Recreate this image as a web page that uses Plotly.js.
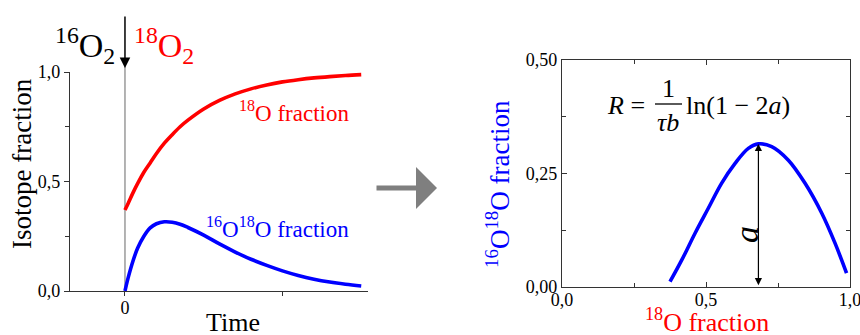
<!DOCTYPE html>
<html><head><meta charset="utf-8">
<script src="https://cdn.plot.ly/plotly-3.0.1.min.js"></script>
<style>html,body{margin:0;padding:0;background:#fff}#chart{width:860px;height:335px}</style>
</head><body><div id="chart"></div>
<script>
// ---- data ----
const time        = [0, 0.02, 0.05, 0.08, 0.12, 0.16, 0.2, 0.25, 0.3, 0.35, 0.4, 0.5, 0.6, 0.7, 0.8, 0.9, 1.0, 1.1, 1.2, 1.3, 1.4, 1.5];
const frac18O     = [0.37, 0.40, 0.447, 0.49, 0.542, 0.585, 0.628, 0.675, 0.714, 0.75, 0.78, 0.831, 0.870, 0.90, 0.923, 0.941, 0.955, 0.965, 0.973, 0.979, 0.984, 0.988];
const frac16O18O  = [0, 0.06, 0.135, 0.195, 0.25, 0.288, 0.307, 0.316, 0.314, 0.305, 0.29, 0.255, 0.215, 0.178, 0.145, 0.117, 0.092, 0.071, 0.054, 0.041, 0.031, 0.023];
const timeTickVals = [0, 1];
const timeTickText = ['0', ''];
const xy18O       = [0.375, 0.416, 0.462, 0.508, 0.554, 0.601, 0.647, 0.682, 0.728, 0.786, 0.844, 0.902, 0.948, 0.988];
const xy16O18O    = [0.011, 0.059, 0.118, 0.173, 0.228, 0.272, 0.305, 0.315, 0.309, 0.279, 0.228, 0.162, 0.096, 0.030];

// ---- helpers (pixel -> paper) ----
const W = 860, H = 335;
const PX = p => p / W;
const PY = p => (H - p) / H;
const FONT = 'Liberation Serif';
const RED = '#ff0000', BLUE = '#0000ff', AX = '#333333';

const traces = [
  {x: time, y: frac18O, xaxis: 'x', yaxis: 'y', mode: 'lines', line: {color: RED, width: 3.6, shape: 'spline'}, hoverinfo: 'skip'},
  {x: time, y: frac16O18O, xaxis: 'x', yaxis: 'y', mode: 'lines', line: {color: BLUE, width: 3.6, shape: 'spline'}, hoverinfo: 'skip'},
  {x: xy18O, y: xy16O18O, xaxis: 'x2', yaxis: 'y2', mode: 'lines', line: {color: BLUE, width: 3.6, shape: 'spline'}, hoverinfo: 'skip'}
];

// peak of the right-hand curve (for the "a" arrow)
let pk = 0; xy16O18O.forEach((v, i) => { if (v > xy16O18O[pk]) pk = i; });
const peakX = xy18O[pk], peakY = xy16O18O[pk];

const tickFont = {family: FONT, size: 18, color: '#000'};
const txt = (x, y, text, size, color, extra) => Object.assign({
  xref: 'paper', yref: 'paper', x: PX(x), y: PY(y), text: text, showarrow: false,
  font: {family: FONT, size: size, color: color}, xanchor: 'center', yanchor: 'middle'
}, extra || {});

const layout = {
  width: W, height: H,
  margin: {l: 0, r: 0, t: 0, b: 0},
  paper_bgcolor: '#fff', plot_bgcolor: '#fff',
  showlegend: false,
  separators: ', ',
  font: {family: FONT, color: '#000'},
  xaxis: {
    domain: [PX(70), PX(368)], range: [-0.349, 1.543],
    tickvals: timeTickVals, ticktext: timeTickText,
    ticks: 'outside', ticklen: 4, tickcolor: AX, tickwidth: 1, ticklabelstandoff: -4,
    showline: true, linecolor: AX, linewidth: 1.2,
    showgrid: false, zeroline: false, tickfont: tickFont, automargin: false
  },
  yaxis: {
    domain: [PY(291), PY(72)], range: [0, 1],
    dtick: 0.5, tickformat: '.1f',
    ticks: 'outside', ticklen: 5, tickcolor: AX, tickwidth: 1,
    minor: {dtick: 0.25, ticks: 'outside', ticklen: 4, tickcolor: AX},
    showline: true, linecolor: AX, linewidth: 1.2,
    showgrid: false, zeroline: false, tickfont: tickFont, automargin: false
  },
  xaxis2: {
    domain: [PX(562), PX(850)], range: [0, 1], anchor: 'y2',
    dtick: 0.5, tickformat: '.1f', ticklabeloverflow: 'allow', ticklabelstandoff: -4,
    ticks: 'inside', ticklen: 5, tickcolor: AX,
    minor: {dtick: 0.25, ticks: 'inside', ticklen: 4, tickcolor: AX},
    showline: true, mirror: 'ticks', linecolor: AX, linewidth: 1.2,
    showgrid: false, zeroline: false, tickfont: tickFont, automargin: false
  },
  yaxis2: {
    domain: [PY(286.7), PY(60)], range: [0, 0.5], anchor: 'x2',
    dtick: 0.25, tickformat: '.2f', ticklabeloverflow: 'allow',
    ticks: 'inside', ticklen: 5, tickcolor: AX,
    minor: {dtick: 0.125, ticks: 'inside', ticklen: 4, tickcolor: AX},
    showline: true, mirror: 'ticks', linecolor: AX, linewidth: 1.2,
    showgrid: false, zeroline: false, tickfont: tickFont, automargin: false
  },
  shapes: [
    {type: 'line', xref: 'x', yref: 'paper', x0: 0, x1: 0, y0: PY(291), y1: PY(66), line: {color: '#9a9a9a', width: 1.5}, layer: 'below'},
    {type: 'line', xref: 'paper', yref: 'paper', x0: PX(655), x1: PX(682), y0: PY(104), y1: PY(104), line: {color: '#000', width: 1.3}}
  ],
  annotations: [
    // axis titles
    txt(22, 164, 'Isotope fraction', 27, '#000', {textangle: -90}),
    txt(233, 322, 'Time', 26, '#000'),
    txt(498, 184, '<sup>16</sup>O<sup>18</sup>O fraction', 27, BLUE, {textangle: -90}),
    txt(707, 320, '<sup>18</sup>O fraction', 26, RED),
    // labels
    txt(85, 45, '<sup>16</sup>O<sub>2</sub>', 34, '#000'),
    txt(164, 45, '<sup>18</sup>O<sub>2</sub>', 34, RED),
    txt(294, 111, '<sup>18</sup>O fraction', 23, RED),
    txt(277, 227, '<sup>16</sup>O<sup>18</sup>O fraction', 23, BLUE),
    // black arrow at t = 0
    {xref: 'x', yref: 'paper', x: 0, y: PY(68), ax: 0, ay: -53, text: '', showarrow: true,
     arrowhead: 2, arrowsize: 1.4, arrowwidth: 1.5, arrowcolor: '#000'},
    // grey arrow between panels
    {xref: 'paper', yref: 'paper', x: PX(437), y: PY(188), ax: -62, ay: 0, text: '', showarrow: true,
     arrowhead: 1, arrowsize: 1.4, arrowwidth: 5, arrowcolor: '#7f7f7f'},
    // formula
    txt(626, 105, '<i>R</i> =', 26, '#000'),
    txt(668, 88, '1', 26, '#000'),
    txt(668, 122, '<i>τb</i>', 26, '#000'),
    txt(684, 105, 'ln(1 − 2<i>a</i>)', 26, '#000', {xanchor: 'left'}),
    // double arrow marking a
    {xref: 'x2', yref: 'y2', axref: 'x2', ayref: 'y2', x: peakX, y: peakY, ax: peakX, ay: 0, text: '', showarrow: true,
     arrowside: 'end+start', arrowhead: 2, arrowsize: 1.2, arrowwidth: 1.2, arrowcolor: '#000'},
    txt(746, 235, '<i>a</i>', 34, '#000', {textangle: -90})
  ]
};

Plotly.newPlot('chart', traces, layout, {staticPlot: true, displayModeBar: false});
</script></body></html>
